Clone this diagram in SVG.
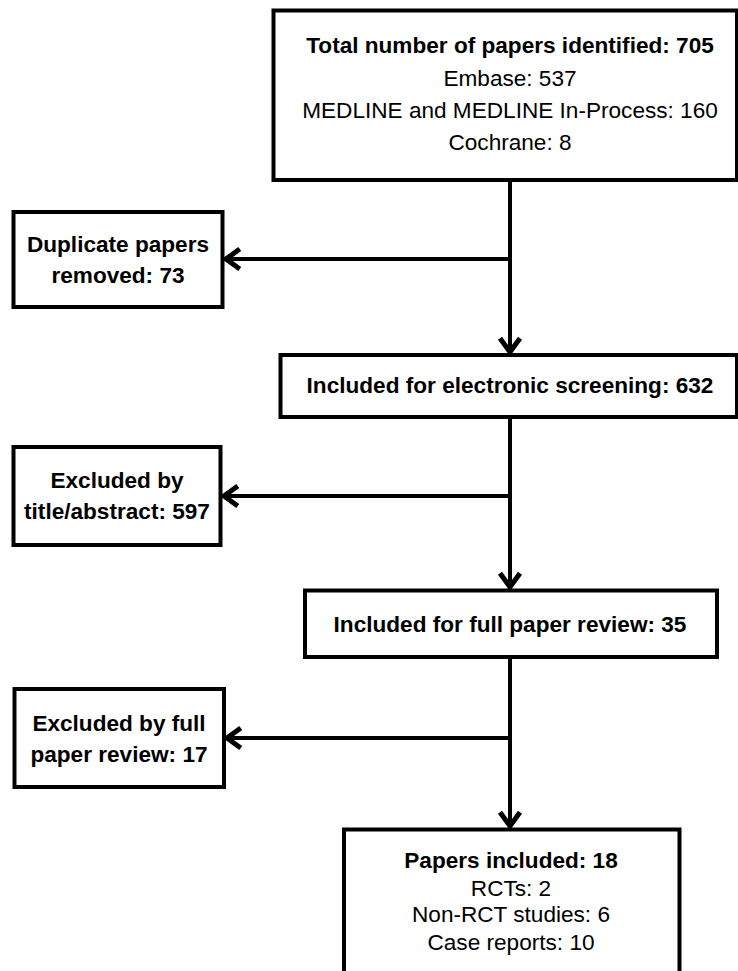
<svg xmlns="http://www.w3.org/2000/svg" width="738" height="971" viewBox="0 0 738 971">
<style>
.box{fill:#fff;stroke:#000;stroke-width:4}
.t{font-family:"Liberation Sans",Arial,sans-serif;font-size:22.6px;fill:#000;text-anchor:middle}
.b{font-weight:bold}
.c{stroke:#000;stroke-width:4;fill:none}
</style>
<defs>
<marker id="ah" markerUnits="userSpaceOnUse" markerWidth="30" markerHeight="30" viewBox="-16 -12 20 24" refX="0" refY="0" orient="auto">
<path d="M-11,-8 L0,0 L-11,8" fill="none" stroke="#000" stroke-width="4" stroke-linejoin="miter"/>
</marker>
</defs>
<rect width="738" height="971" fill="#fff"/>
<g id="connectors">
<path class="c" d="M510,180 V352" marker-end="url(#ah)"/>
<path class="c" d="M510,259 H226" marker-end="url(#ah)"/>
<path class="c" d="M510,417 V587" marker-end="url(#ah)"/>
<path class="c" d="M510,496 H224" marker-end="url(#ah)"/>
<path class="c" d="M510,657 V826" marker-end="url(#ah)"/>
<path class="c" d="M510,738 H227" marker-end="url(#ah)"/>
</g>
<g id="total">
<rect class="box" x="273.5" y="10.5" width="463.5" height="169.5"/>
<text class="t b" x="510" y="53">Total number of papers identified: 705</text>
<text class="t" x="510" y="86">Embase: 537</text>
<text class="t" x="510" y="118">MEDLINE and MEDLINE In-Process: 160</text>
<text class="t" x="510" y="150">Cochrane: 8</text>
</g>
<g id="duplicates">
<rect class="box" x="13.5" y="212" width="209" height="95"/>
<text class="t b" x="118" y="252">Duplicate papers</text>
<text class="t b" x="118" y="283">removed: 73</text>
</g>
<g id="screening">
<rect class="box" x="280.5" y="355" width="456.5" height="62"/>
<text class="t b" x="510" y="393">Included for electronic screening: 632</text>
</g>
<g id="excluded-title">
<rect class="box" x="13.5" y="447" width="207" height="98"/>
<text class="t b" x="117" y="488">Excluded by</text>
<text class="t b" x="117" y="519">title/abstract: 597</text>
</g>
<g id="fullreview">
<rect class="box" x="305" y="590.5" width="412" height="66.5"/>
<text class="t b" x="510" y="632">Included for full paper review: 35</text>
</g>
<g id="excluded-full">
<rect class="box" x="14.5" y="689" width="209.5" height="98"/>
<text class="t b" x="119" y="731">Excluded by full</text>
<text class="t b" x="119" y="762">paper review: 17</text>
</g>
<g id="included">
<rect class="box" x="344" y="829.5" width="335.5" height="160"/>
<text class="t b" x="511" y="868">Papers included: 18</text>
<text class="t" x="511" y="896">RCTs: 2</text>
<text class="t" x="511" y="922">Non-RCT studies: 6</text>
<text class="t" x="511" y="950">Case reports: 10</text>
</g>
</svg>
